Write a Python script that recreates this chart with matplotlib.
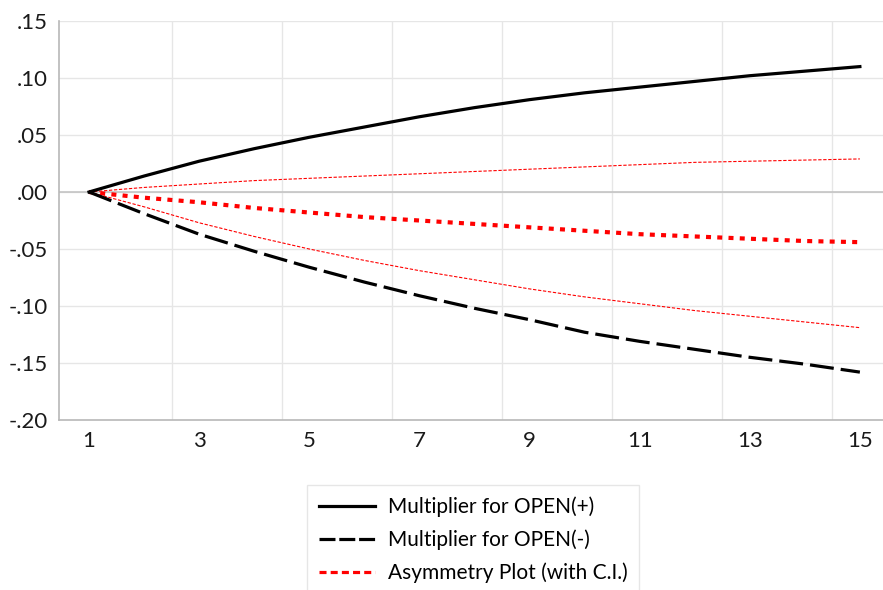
import matplotlib
matplotlib.use("Agg")
import matplotlib.pyplot as plt
from matplotlib.lines import Line2D

plt.rcParams['font.family'] = ['Lato', 'DejaVu Sans']

# horizon (periods)
periods = list(range(1, 16))

# cumulative dynamic multipliers
open_pos = [0.000, 0.014, 0.027, 0.038, 0.048, 0.057, 0.066, 0.074,
            0.081, 0.087, 0.092, 0.097, 0.102, 0.106, 0.110]
open_neg = [0.000, -0.019, -0.037, -0.052, -0.066, -0.079, -0.091, -0.102,
            -0.112, -0.123, -0.131, -0.138, -0.145, -0.151, -0.158]
asym = [0.000, -0.005, -0.009, -0.014, -0.018, -0.022, -0.025, -0.028,
        -0.031, -0.034, -0.037, -0.039, -0.041, -0.043, -0.044]
ci_upper = [0.000, 0.004, 0.007, 0.010, 0.012, 0.014, 0.016, 0.018,
            0.020, 0.022, 0.024, 0.026, 0.027, 0.028, 0.029]
ci_lower = [0.000, -0.013, -0.027, -0.039, -0.050, -0.060, -0.069, -0.077,
            -0.085, -0.092, -0.098, -0.104, -0.109, -0.114, -0.119]

xtick_pos = [1, 3, 5, 7, 9, 11, 13, 15]
ytick_pos = [-0.20, -0.15, -0.10, -0.05, 0.00, 0.05, 0.10, 0.15]
ytick_labels = ['-.20', '-.15', '-.10', '-.05', '.00', '.05', '.10', '.15']

fig = plt.figure(figsize=(8.83, 5.90), dpi=100)
ax = fig.add_axes([59 / 883, 1 - 420 / 590, (883 - 59) / 883, (420 - 21) / 590])

# grid: vertical lines sit between observations
for gx in [2.5, 4.5, 6.5, 8.5, 10.5, 12.5, 14.5]:
    ax.axvline(gx, color='#e6e6e6', lw=1.0, zorder=0)
for gy in ytick_pos[1:]:
    ax.axhline(gy, color='#e6e6e6', lw=1.0, zorder=0)
ax.axhline(0, color='#c4c4c4', lw=1.2, zorder=1)

ax.plot(periods, ci_upper, color='red', lw=0.8, dashes=(3, 1.5), zorder=2)
ax.plot(periods, ci_lower, color='red', lw=0.8, dashes=(3, 1.5), zorder=2)
ax.plot(periods, asym, color='red', lw=3.0, dashes=(1.2, 1.5), zorder=3)
ax.plot(periods, open_neg, color='black', lw=2.3, dashes=(7.5, 2.2), zorder=4)
ax.plot(periods, open_pos, color='black', lw=2.3, zorder=5)

ax.set_xlim(0.455, 15.42)
ax.set_ylim(-0.20, 0.15)
ax.set_xticks(xtick_pos)
ax.set_xticklabels([str(p) for p in xtick_pos])
ax.set_yticks(ytick_pos)
ax.set_yticklabels(ytick_labels)
ax.tick_params(axis='both', length=0, labelsize=16, colors='#1a1a1a')
ax.tick_params(axis='x', pad=8)
ax.tick_params(axis='y', pad=8)

for side in ['top', 'right']:
    ax.spines[side].set_visible(False)
for side in ['left', 'bottom']:
    ax.spines[side].set_color('#b8b8b8')
    ax.spines[side].set_linewidth(1.2)

handles = [
    Line2D([], [], color='black', lw=2.3),
    Line2D([], [], color='black', lw=2.3, dashes=(5, 1.2)),
    Line2D([], [], color='red', lw=2.3, dashes=(2.2, 1.3)),
]
labels = ['Multiplier for OPEN(+)', 'Multiplier for OPEN(-)', 'Asymmetry Plot (with C.I.)']
leg = fig.legend(handles, labels, loc='upper center', bbox_to_anchor=(473 / 883, 1 - 485 / 590),
                 fontsize=15, frameon=True, fancybox=False, handlelength=2.7,
                 handletextpad=0.6, labelspacing=0.6, borderpad=0.55, borderaxespad=0)
leg.get_frame().set_edgecolor('#e0e0e0')
leg.get_frame().set_linewidth(1.0)

fig.savefig('out.png', dpi=100)
